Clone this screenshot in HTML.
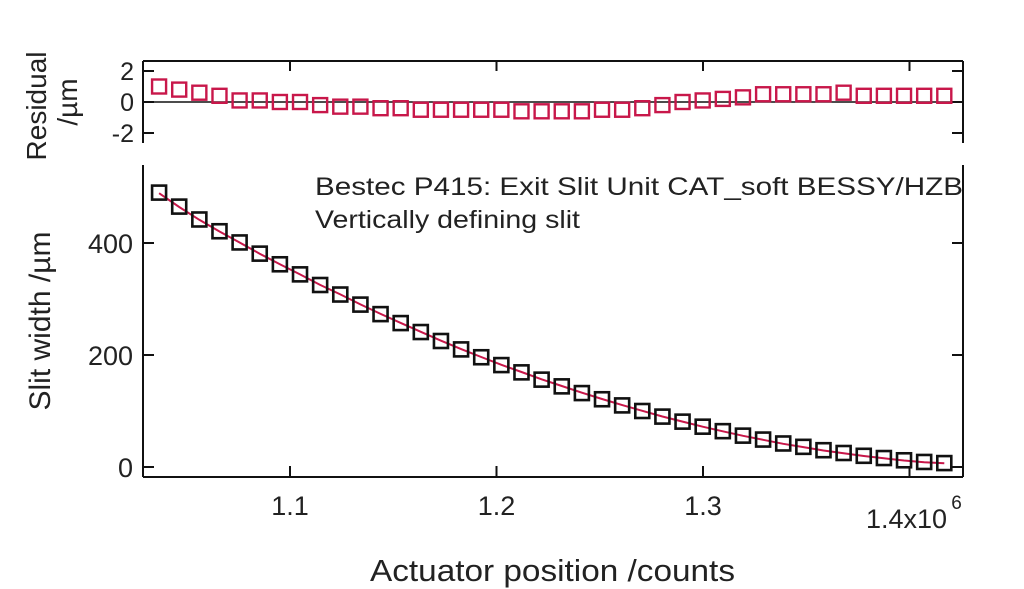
<!DOCTYPE html>
<html><head><meta charset="utf-8"><style>
body{margin:0;background:#fff;}
svg{display:block;font-family:"Liberation Sans",sans-serif;}
</style></head><body>
<svg id="chart" width="1024" height="589" viewBox="0 0 1024 589" xmlns="http://www.w3.org/2000/svg">
<g id="axes"></g><g id="marks"></g>
<text x="315" y="195" font-size="25" fill="#222" textLength="648" lengthAdjust="spacingAndGlyphs">Bestec P415: Exit Slit Unit CAT_soft BESSY/HZB</text>
<text x="315" y="228" font-size="25" fill="#222" textLength="265" lengthAdjust="spacingAndGlyphs">Vertically defining slit</text>
<text x="370" y="581" font-size="31" fill="#222" textLength="365" lengthAdjust="spacingAndGlyphs">Actuator position /counts</text>
<text transform="translate(50,321) rotate(-90)" font-size="30" fill="#222" text-anchor="middle">Slit width /µm</text>
<text transform="translate(46,106) rotate(-90)" font-size="28" fill="#222" text-anchor="middle">Residual</text>
<text transform="translate(77,102) rotate(-90)" font-size="28" fill="#222" text-anchor="middle">/µm</text>
</svg>
<script>
const widths=[490,465,442,421,401,381,362,344,325,308,290,273,257,241,225,210,196,182,169,156,144,132,121,110,100,90,81,72,64,56,49,42,36,30,25,20,16,12,9,7];
const residuals=[1.0,0.8,0.6,0.4,0.1,0.1,0,0,-0.2,-0.3,-0.3,-0.4,-0.4,-0.5,-0.5,-0.5,-0.5,-0.5,-0.6,-0.6,-0.6,-0.6,-0.5,-0.5,-0.4,-0.2,0,0.1,0.2,0.3,0.5,0.5,0.5,0.5,0.6,0.4,0.4,0.4,0.4,0.4];
const xStart=1036600, xStep=9750;
const xTicks=[1.1e6,1.2e6,1.3e6,1.4e6];
const xTickLabels=["1.1","1.2","1.3","1.4x10"];
const yTicks=[0,200,400];
const rTicks=[-2,0,2];
const NS="http://www.w3.org/2000/svg";
const X=v=>290+(v-1.1e6)/1e5*206.5;
const Y=v=>467-v*0.56;
const R=v=>102-v*15.5;
const axes=document.getElementById('axes'), marks=document.getElementById('marks');
function mk(tag,attrs,parent){const e=document.createElementNS(NS,tag);for(const k in attrs)e.setAttribute(k,attrs[k]);parent.appendChild(e);return e;}
function line(x1,y1,x2,y2,p,w){return mk('line',{x1,y1,x2,y2,stroke:'#111','stroke-width':w||2},p);}
let el;
el=line(143,61,963,61,axes);
el=line(143,61,143,143,axes);
el=line(963,61,963,143,axes);
el=line(143,102,963,102,axes,1.5);
el=line(143,165,143,477,axes);
el=line(963,165,963,477,axes);
el=line(143,477,963,477,axes);
xTicks.forEach((v,i)=>{
  const x=X(v);
  line(x,61,x,71,axes);line(x,477,x,466,axes);
  const t=mk('text',{x:x,y:i==3?528:515,'font-size':27,fill:'#222','text-anchor':'middle'},axes);
  t.textContent=xTickLabels[i];
  
  
  if(i==3){t.setAttribute('x',x-3);const s=mk('text',{x:x+47,y:509,'font-size':19,fill:'#222','text-anchor':'middle'},axes);s.textContent='6';
  
  }
});
yTicks.forEach(v=>{
  const y=Y(v);line(143,y,154,y,axes);line(963,y,952,y,axes);
  const t=mk('text',{x:133,y:y+10,'font-size':27,fill:'#222','text-anchor':'end'},axes);t.textContent=v;
  
  
});
rTicks.forEach(v=>{
  const y=R(v);line(143,y,154,y,axes);line(963,y,952,y,axes);
  const t=mk('text',{x:134,y:y+9,'font-size':25,fill:'#222','text-anchor':'end'},axes);t.textContent=v;
  
  
});
const pts=widths.map((w,i)=>X(xStart+i*xStep).toFixed(1)+','+Y(w-residuals[i]).toFixed(1)).join(' ');
el=mk('polyline',{points:pts,fill:'none',stroke:'#c8174a','stroke-width':2},marks);


widths.forEach((w,i)=>{
  const x=X(xStart+i*xStep);
  const r=mk('rect',{x:x-7,y:Y(w)-7,width:14,height:14,fill:'none',stroke:'#111','stroke-width':2.6},marks);
  
  
  const q=mk('rect',{x:x-7,y:R(residuals[i])-7,width:14,height:14,fill:'none',stroke:'#c8174a','stroke-width':2.4},marks);
  
  
});
</script>
</body></html>
